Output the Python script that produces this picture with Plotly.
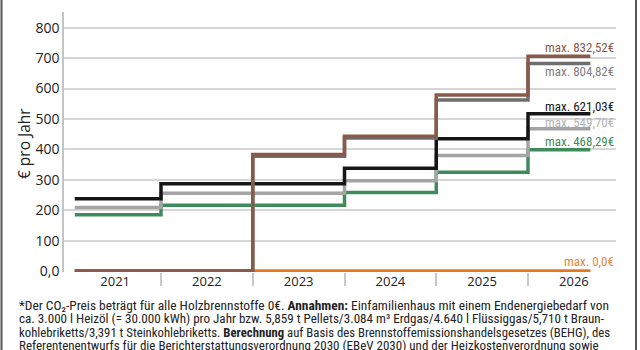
import plotly.graph_objects as go

years = ["2021", "2022", "2023", "2024", "2025", "2026"]
series_names = ["Holz", "Erdgas", "Flüssiggas", "Heizöl", "Steinkohlebriketts", "Braunkohlebriketts"]
holz = [0, 0, 0, 0, 0, 0]
erdgas = [185, 216, 216, 258, 325, 399]
fluessiggas = [209, 256, 256, 297, 380, 468]
heizoel = [238, 287, 287, 338, 435, 517]
steinkohle = [0, 0, 377, 437, 562, 682]
braunkohle = [0, 0, 383, 443, 579, 706]
max_labels = ["max. 0,0€", "max. 468,29€", "max. 549,70€", "max. 621,03€", "max. 804,82€", "max. 832,52€"]
y_tick_vals = [0, 100, 200, 300, 400, 500, 600, 700, 800]
y_tick_text = ["0,0", "100", "200", "300", "400", "500", "600", "700", "800"]

all_series = [holz, erdgas, fluessiggas, heizoel, steinkohle, braunkohle]
line_colors = ["#e8771e", "#3f8b5c", "#a4a4a4", "#161616", "#6e6e6e", "#8a5a48"]
label_colors = ["#e38a3d", "#3f8b5c", "#b3b3b3", "#161616", "#808080", "#8a5a48"]
label_shift = [10, 8, 6, 7, -8, 9]

LINE_START = 0.06
LINE_END = 5.68
NARROW = "Liberation Sans Narrow, Roboto Condensed, Arial Narrow, sans-serif"
SANS = "Open Sans, Noto Sans, sans-serif"

fig = go.Figure()
n = len(years)
for name, vals, col in zip(series_names, all_series, line_colors):
    xs = [LINE_START] + list(range(1, n)) + [LINE_END]
    ys = list(vals) + [vals[-1]]
    fig.add_trace(go.Scatter(x=xs, y=ys, mode="lines", name=name,
                             line=dict(color=col, width=3.5, shape="hv"),
                             hoverinfo="skip", showlegend=False))

annotations = []
for vals, txt, col, sh in zip(all_series, max_labels, label_colors, label_shift):
    annotations.append(dict(x=1, xref="paper", y=vals[-1], yref="y", text=txt,
                            xanchor="right", yanchor="middle", yshift=sh, showarrow=False,
                            font=dict(family=NARROW, size=13, color=col)))

annotations.append(dict(x=0, xref="paper", xshift=-40, y=0.492, yref="paper",
                        text="€ pro Jahr", textangle=-90, showarrow=False,
                        xanchor="center", yanchor="middle",
                        font=dict(family=SANS, size=15.5, color="#222222")))

foot = [
    "*Der CO₂-Preis beträgt für alle Holzbrennstoffe 0€. <b>Annahmen:</b> Einfamilienhaus mit einem Endenergiebedarf von",
    "ca. 3.000 l Heizöl (= 30.000 kWh) pro Jahr bzw. 5,859 t Pellets/3.084 m³ Erdgas/4.640 l Flüssiggas/5,710 t Braun-",
    "kohlebriketts/3,391 t Steinkohlebriketts. <b>Berechnung</b> auf Basis des Brennstoffemissionshandelsgesetzes (BEHG), des",
    "Referentenentwurfs für die Berichterstattungsverordnung 2030 (EBeV 2030) und der Heizkostenverordnung sowie",
]
foot_px = [305, 318.5, 332, 345.5]
foot_size = [13.4, 13.1, 12.75, 13.0]
for t, py, fs in zip(foot, foot_px, foot_size):
    annotations.append(dict(x=(17 - 64) / 552, xref="paper", y=(272 - py) / 260, yref="paper",
                            text=t, xanchor="left", yanchor="middle", showarrow=False,
                            font=dict(family=NARROW, size=fs, color="#222222")))

fig.update_layout(
    width=640, height=350,
    margin=dict(l=64, r=24, t=12, b=78),
    paper_bgcolor="white", plot_bgcolor="white",
    annotations=annotations,
    shapes=[
        dict(type="line", xref="paper", yref="paper", x0=(1.5 - 64) / 552, x1=(1.5 - 64) / 552,
             y0=-0.31, y1=1.06, line=dict(color="#555555", width=2)),
        dict(type="line", xref="paper", yref="paper", x0=(636 - 64) / 552, x1=(636 - 64) / 552,
             y0=-0.31, y1=1.06, line=dict(color="#555555", width=2)),
    ],
    xaxis=dict(range=[(64 - 69.25) / 91.75, (616 - 69.25) / 91.75],
               tickvals=[i + 0.5 for i in range(n)], ticktext=years, ticks="",
               showgrid=False, zeroline=False, showline=False,
               tickfont=dict(family=SANS, size=13, color="#222222"),
               minor=dict(tickvals=list(range(1, n)), ticks="outside", ticklen=13,
                          tickcolor="#c8c8c8", tickwidth=1.5, showgrid=False)),
    yaxis=dict(range=[-3, 851.4], tickvals=y_tick_vals, ticktext=y_tick_text,
               showgrid=True, gridcolor="#d6d6d6", gridwidth=1.5, zeroline=False,
               showline=True, linecolor="#c4c4c4", linewidth=1.5, ticks="",
               tickfont=dict(family=SANS, size=14, color="#222222")),
)

fig.write_html("out.html")
